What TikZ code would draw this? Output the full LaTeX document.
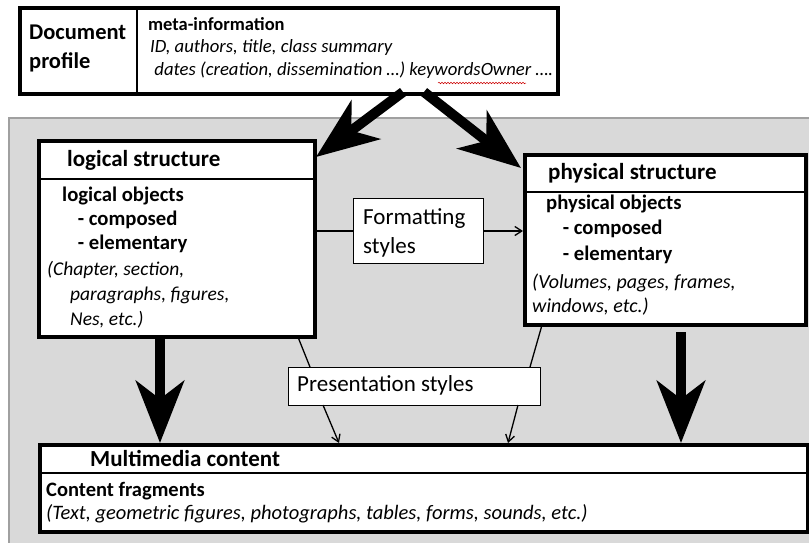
\documentclass[tikz,border=0pt]{standalone}
\usepackage{fontspec}
\setmainfont{Carlito}
\usetikzlibrary{arrows.meta,decorations.pathmorphing}
\newcommand{\fs}[1]{\fontsize{#1}{#1}\selectfont}
\begin{document}
\begin{tikzpicture}[x=1pt,y=-1pt,
  heavybox/.style={draw=black,line width=4pt,fill=white,inner sep=0pt,anchor=north west},
  lightbox/.style={draw=black,line width=1.4pt,fill=white,inner sep=0pt,anchor=north west},
  txt/.style={inner sep=0pt,anchor=mid west},
  divider/.style={line width=1.8pt},
  bigarrow/.style={line width=10pt,-{Stealth[length=62pt,width=48pt,inset=18pt]}},
  thinline/.style={line width=1.3pt},
  thinarrow/.style={line width=1.3pt,-{Straight Barb[length=7pt,width=9pt]}}]
\useasboundingbox (0,0) rectangle (809,542);
\fill[white] (0,0) rectangle (809,542);

% grey working area
\draw[fill={rgb,255:red,217;green,217;blue,217},draw={rgb,255:red,160;green,160;blue,160},line width=1.5pt]
  (9,118) rectangle (830,560);

% document profile
\node[heavybox,minimum width=538pt,minimum height=86pt] (profile) at (18,6) {};
\draw[divider] (profile.north west -| 137,0) -- (profile.south west -| 137,0);
\node[txt] (dp1) at (29,37) {\fs{22.5}\bfseries Document};
\node[txt] (dp2) at (29,66) {\fs{22.5}\bfseries profile};
\node[txt] (meta) at (148,28) {\fs{18.5}\bfseries meta-information};
\node[txt] (meta1) at (150,50) {\fs{18.7}\itshape ID, authors, title, class summary};
\node[txt] (meta2) at (150,73) {\fs{18.7}\itshape \ dates (creation, dissemination \dots) keywordsOwner \dots.};
% spelling squiggle under "keywordsOwner"
\coordinate (sq1) at (438,83);
\coordinate (sq2) at (526,83);
\draw[red!80!black,line width=0.5pt,decorate,decoration={snake,amplitude=0.8pt,segment length=3pt}] (sq1) -- (sq2);

% logical structure
\node[heavybox,minimum width=276pt,minimum height=196pt] (logical) at (37,139) {};
\draw[divider] (37,179) -- (313,179);
\node[txt] (lt) at (67,164) {\fs{23}\bfseries logical structure};
\node[txt] (lo1) at (62,199) {\fs{20.7}\bfseries logical objects};
\node[txt] (lo2) at (73,223) {\fs{20.7}\bfseries \ - composed};
\node[txt] (lo3) at (73,247) {\fs{20.7}\bfseries \ - elementary};
\node[txt] (lo4) at (47,273) {\fs{19.5}\itshape (Chapter, section,};
\node[txt] (lo5) at (70,298) {\fs{19.5}\itshape paragraphs, figures,};
\node[txt] (lo6) at (70,323) {\fs{19.5}\itshape Nes, etc.)};

% physical structure
\node[heavybox,minimum width=281pt,minimum height=170pt] (physical) at (523,153) {};
\draw[divider] (523,192) -- (804,192);
\node[txt] (pt) at (548,177) {\fs{23}\bfseries physical structure};
\node[txt] (po1) at (546,207) {\fs{20.7}\bfseries physical objects};
\node[txt] (po2) at (558,232) {\fs{20.7}\bfseries \ - composed};
\node[txt] (po3) at (558,258) {\fs{20.7}\bfseries \ - elementary};
\node[txt] (po4) at (532,286) {\fs{20}\itshape (Volumes, pages, frames,};
\node[txt] (po5) at (532,310) {\fs{20}\itshape windows, etc.)};

% formatting styles
\node[lightbox,minimum width=130pt,minimum height=65pt] (fmt) at (353,198) {};
\node[txt] (f1) at (363,222) {\fs{23}Formatting};
\node[txt] (f2) at (363,251) {\fs{23}styles};

% presentation styles
\node[lightbox,minimum width=252pt,minimum height=38pt] (pres) at (288,367) {};
\node[txt] (p1) at (297,389) {\fs{23}Presentation styles};

% multimedia content
\node[heavybox,minimum width=768pt,minimum height=87pt] (multi) at (38,443) {};
\draw[divider] (38,473) -- (806,473);
\node[txt] (mt) at (90,464) {\fs{23}\bfseries Multimedia content};
\node[txt] (m1) at (46,494) {\fs{20.5}\bfseries Content fragments};
\node[txt] (m2) at (46,517) {\fs{20.5}\itshape (Text, geometric figures, photographs, tables, forms, sounds, etc.)};

% heavy arrows
\coordinate (a1s) at (403,92);
\coordinate (a1e) at (316,157);
\coordinate (a2s) at (424,92);
\coordinate (a2e) at (521,168);
\coordinate (dl) at (160,0);
\coordinate (dp) at (681,332);
\draw[bigarrow] (a1s) -- (a1e);
\draw[bigarrow] (a2s) -- (a2e);
\draw[bigarrow] (logical.south -| dl) -- (multi.north -| dl);
\draw[bigarrow] (dp) -- (multi.north -| dp);

% thin connectors
\coordinate (c1) at (0,231);
\draw[thinline] (logical.east |- c1) -- (fmt.west |- c1);
\draw[thinarrow] (fmt.east |- c1) -- (physical.west |- c1);
\coordinate (b1) at (298,337);
\coordinate (b2) at (310,367);
\coordinate (b3) at (323,405);
\coordinate (b4) at (339,443);
\coordinate (b5) at (542,325);
\coordinate (b6) at (530,367);
\coordinate (b7) at (518,405);
\coordinate (b8) at (508,443);
\draw[thinline] (b1) -- (b2);
\draw[thinarrow] (b3) -- (b4);
\draw[thinline] (b5) -- (b6);
\draw[thinarrow] (b7) -- (b8);
\end{tikzpicture}
\end{document}
